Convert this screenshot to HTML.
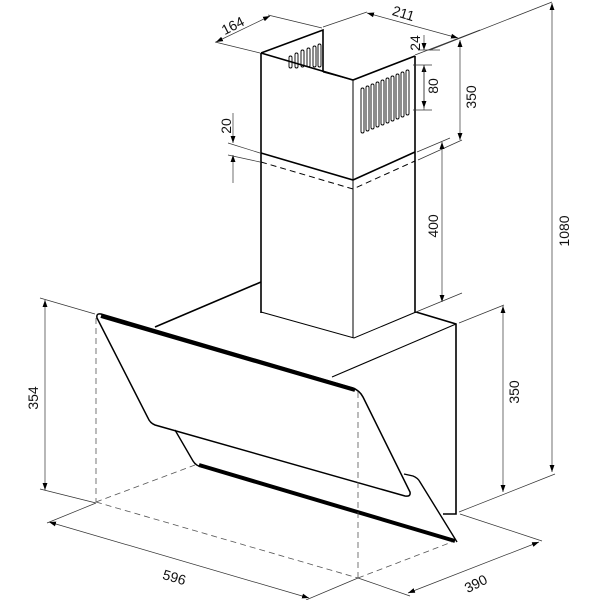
<!DOCTYPE html>
<html><head><meta charset="utf-8"><style>
html,body{margin:0;padding:0;background:#fff;}
svg{display:block}
text{font-family:"Liberation Sans",Arial,sans-serif;font-size:14px;fill:#111}
</style></head><body>
<svg width="600" height="600" viewBox="0 0 600 600" xmlns="http://www.w3.org/2000/svg">
<defs>
<marker id="a" viewBox="0 0 10 10" refX="10" refY="5" markerWidth="7" markerHeight="7" orient="auto-start-reverse" markerUnits="userSpaceOnUse"><path d="M0,1.5 L10,5 L0,8.5z" fill="#000"/></marker>
</defs>
<g fill="none" stroke="#000">
<g stroke-width="1.6">
<path d="M261,53 L323,30 L323,72"/>
<path d="M261,53 L353,80 L415,56"/>
<path d="M261,53 L261,313"/>
<path d="M415,56 L415,313"/>
<path d="M261,153 L353,180 L415,152"/>
</g>
<path d="M323,72 L353,80" stroke-width="1"/>
<path d="M353,80 L353,338" stroke-width="1"/>
<path d="M261,162 L353,189 L415,161" stroke-width="1" stroke-dasharray="6,4"/>
<path d="M261,312 L354,338 L416,312" stroke-width="1"/>
<g stroke-width="0.9">
<rect x="289" y="56" width="3" height="12" rx="1.5"/>
<rect x="295" y="53" width="3" height="15" rx="1.5"/>
<rect x="301" y="50" width="3" height="17" rx="1.5"/>
<rect x="307" y="48" width="3" height="19" rx="1.5"/>
<rect x="313" y="46" width="3" height="21" rx="1.5"/>
<rect x="318" y="44" width="3" height="23" rx="1.5"/>
</g>
<g stroke-width="0.9">
<rect x="361" y="88" width="3" height="45" rx="1.5"/>
<rect x="366" y="86" width="3" height="45" rx="1.5"/>
<rect x="371" y="84" width="3" height="45" rx="1.5"/>
<rect x="376" y="82" width="3" height="45" rx="1.5"/>
<rect x="381" y="80" width="3" height="45" rx="1.5"/>
<rect x="386" y="78" width="3" height="45" rx="1.5"/>
<rect x="391" y="76" width="3" height="45" rx="1.5"/>
<rect x="396" y="74" width="3" height="45" rx="1.5"/>
<rect x="401" y="72" width="3" height="45" rx="1.5"/>
<rect x="406" y="70" width="3" height="45" rx="1.5"/>
</g>
<g stroke-width="1.6">
<path d="M155,327 L261,282"/>
<path d="M416,312 L456,324 L456,514 L443,514"/>
</g>
<path d="M332,377 L456,324" stroke-width="1.1"/>
<path d="M101,314 L353,388 Q360,391 363,397 L410,492 Q411,497 405,496 L155,425 Q150,423 148,418 L97,318 Q96,313 101,314z" stroke-width="1.5" fill="#fff"/>
<path d="M101,316 L355,390" stroke-width="4"/>
<path d="M175,430 L193,461 Q196,466 202,467" stroke-width="1.4"/>
<path d="M404,474 L413,476 Q418,478 420,482 L457,542" stroke-width="1.4"/>
<path d="M199,465 L455,541" stroke-width="4"/>
<g stroke-width="0.8" stroke="#555" stroke-dasharray="6,4">
<path d="M96,318 L96,502"/>
<path d="M358,392 L358,578"/>
<path d="M96,502 L358,578"/>
<path d="M96,502 L195,465"/>
<path d="M358,578 L452,542"/>
</g>
<g stroke-width="0.7" stroke="#333">
<path d="M215,42 L260,53"/><path d="M268,15 L322,28"/>
<path d="M216,42 L270,16" marker-start="url(#a)" marker-end="url(#a)"/>
<path d="M323,27 L367,12"/><path d="M415,55 L480,30"/>
<path d="M367,13 L458,38" marker-start="url(#a)" marker-end="url(#a)"/>
<path d="M430,50 L552,2"/>
<path d="M424,35 L424,50" marker-end="url(#a)"/>
<path d="M424,110 L424,65" marker-end="url(#a)"/>
<path d="M424,65 L424,108" marker-end="url(#a)"/>
<path d="M418,50 L440,50"/><path d="M413,65 L432,65"/><path d="M413,110 L432,110"/>
<path d="M460,40 L460,140" marker-start="url(#a)" marker-end="url(#a)"/>
<path d="M417,152 L450,138"/><path d="M418,160 L462,140"/>
<path d="M442,142 L442,302" marker-start="url(#a)" marker-end="url(#a)"/>
<path d="M416,312 L462,293"/>
<path d="M233,113 L233,143" marker-end="url(#a)"/>
<path d="M233,183 L233,155" marker-end="url(#a)"/>
<path d="M228,143 L260,153"/><path d="M228,155 L260,162"/>
<path d="M552,3 L552,472" marker-start="url(#a)" marker-end="url(#a)"/>
<path d="M459,323 L504,305"/>
<path d="M503,306 L503,492" marker-start="url(#a)" marker-end="url(#a)"/>
<path d="M459,512 L555,474"/>
<path d="M45,300 L45,490" marker-start="url(#a)" marker-end="url(#a)"/>
<path d="M40,298 L95,314"/><path d="M40,489 L96,503"/>
<path d="M96,503 L47,523"/><path d="M358,578 L306,600"/>
<path d="M49,522 L309,598" marker-start="url(#a)" marker-end="url(#a)"/>
<path d="M358,578 L410,596"/><path d="M460,514 L542,541"/>
<path d="M408,593 L539,542" marker-start="url(#a)" marker-end="url(#a)"/>
</g>
</g>
<text transform="translate(235,30) rotate(-27)" text-anchor="middle">164</text>
<text transform="translate(402,18) rotate(17)" text-anchor="middle">211</text>
<text transform="translate(420,43) rotate(-90)" text-anchor="middle">24</text>
<text transform="translate(438,86) rotate(-90)" text-anchor="middle">80</text>
<text transform="translate(476,97) rotate(-90)" text-anchor="middle">350</text>
<text transform="translate(438,226) rotate(-90)" text-anchor="middle">400</text>
<text transform="translate(231,126) rotate(-90)" text-anchor="middle">20</text>
<text transform="translate(569,231) rotate(-90)" text-anchor="middle">1080</text>
<text transform="translate(519,392) rotate(-90)" text-anchor="middle">350</text>
<text transform="translate(38,398) rotate(-90)" text-anchor="middle">354</text>
<text transform="translate(173,582) rotate(16)" text-anchor="middle">596</text>
<text transform="translate(478,588) rotate(-27)" text-anchor="middle">390</text>
</svg>
</body></html>
